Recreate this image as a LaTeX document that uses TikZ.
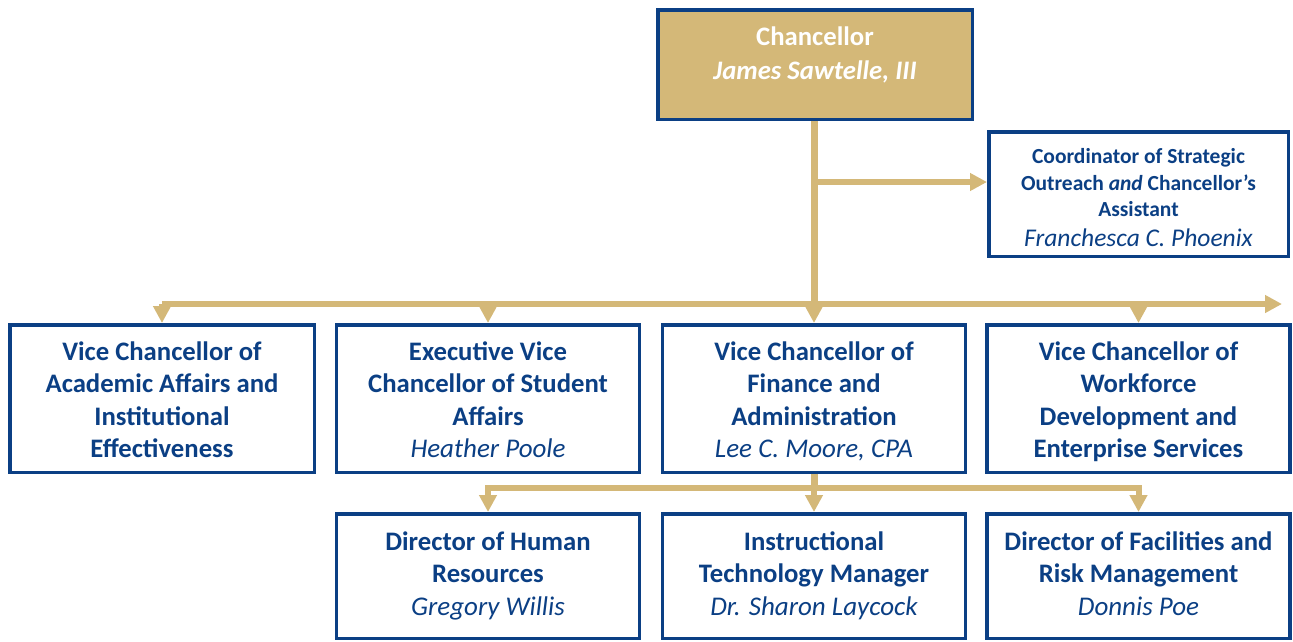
\documentclass[tikz,border=0pt]{standalone}
\usepackage{fontspec}
\setmainfont{Carlito}
\usetikzlibrary{arrows.meta}
\definecolor{navy}{HTML}{0B3F84}
\definecolor{gold}{HTML}{D4B878}
\newcommand{\person}[2][27]{{\normalfont\itshape\fontsize{#1}{#1}\selectfont #2}}
\newcommand{\topgap}[1]{\rule{0pt}{#1}}
\newcommand{\botgap}{\rule[-9pt]{0pt}{9pt}}

\begin{document}
\begin{tikzpicture}[x=1pt, y=-1pt,
    box/.style={draw=navy, line width=3.5pt, text=navy, align=center, inner sep=0pt,
        minimum width=303pt, font=\fontsize{26.7}{32.3}\selectfont\bfseries},
    rowbox/.style={box, minimum height=147.5pt},
    subbox/.style={box, minimum height=124.5pt},
    link/.style={draw=gold, line width=6pt},
    trunk/.style={link, line width=7pt},
    tip/.style={-{Triangle[width=17pt,length=17pt]}},
]
\useasboundingbox (0,0) rectangle (1293,641);
% top
\node[box, fill=gold, minimum width=314.5pt, minimum height=109.5pt] (chan) at (815,64.5) {};
\node[text=white, align=center, font=\fontsize{26.7}{34}\selectfont\bfseries] (chantext) at (815,55)
    {Chancellor\\\textit{James Sawtelle, III}};
\node[box, minimum width=299.5pt, minimum height=124.5pt, font=\fontsize{21.5}{26.5}\selectfont\bfseries] (coord) at (1138.5,194)
    {\topgap{31.1pt}Coordinator of Strategic\\Outreach \textit{and} Chancellor’s\\Assistant\\[3pt]\person[25.5]{Franchesca C. Phoenix}\botgap};
% vice chancellors
\node[rowbox, minimum width=304.5pt] (vcaa) at (162,398.5)
    {\topgap{29.7pt}Vice Chancellor of\\Academic Affairs and\\Institutional\\Effectiveness\botgap};
\node[rowbox] (evcsa) at (488,398.5)
    {\topgap{29.7pt}Executive Vice\\Chancellor of Student\\Affairs\\\person{Heather Poole}\botgap};
\node[rowbox] (vcfin) at (814,398.5)
    {\topgap{29.7pt}Vice Chancellor of\\Finance and\\Administration\\\person{Lee C. Moore, CPA}\botgap};
\node[rowbox] (vcwd) at (1138.5,398.5)
    {\topgap{29.7pt}Vice Chancellor of\\Workforce\\Development and\\Enterprise Services\botgap};
% directors
\node[subbox] (dhr) at (488,576)
    {\topgap{22.4pt}Director of Human\\Resources\\\person{Gregory Willis}\botgap};
\node[subbox] (itm) at (814,576)
    {\topgap{22.4pt}Instructional\\Technology Manager\\\person{Dr. Sharon Laycock}\botgap};
\node[subbox] (dfrm) at (1138.5,576)
    {\topgap{22.4pt}Director of Facilities and\\Risk Management\\\person{Donnis Poe}\botgap};
% connectors
\coordinate (fork) at (814,182);
\coordinate (bus) at (0,304);
\coordinate (busend) at (1282,304);
\coordinate (bus2) at (0,488);
\draw[link, tip] (vcaa.north |- bus) -- (busend);
\foreach \n in {vcaa, evcsa, vcwd}
    \draw[link, tip] (\n.north |- bus) -- (\n.north);
\draw[trunk, tip] (vcfin.north |- chan.south) -- (vcfin.north);
\draw[link, tip] (fork) -- (fork -| coord.west);
\draw[trunk] (vcfin.south) -- (vcfin.south |- bus2);
\draw[link] ([xshift=-3pt]dhr.north |- bus2) -- ([xshift=3pt]dfrm.north |- bus2);
\foreach \n in {dhr, itm, dfrm}
    \draw[link, tip] (\n.north |- bus2) -- (\n.north);
\end{tikzpicture}
\end{document}
